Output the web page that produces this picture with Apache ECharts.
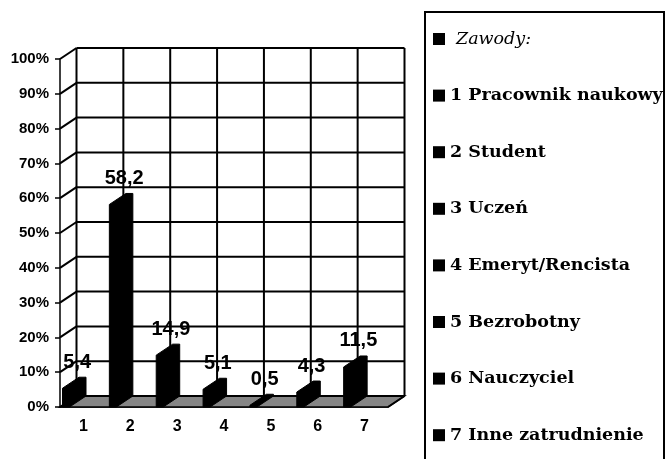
<!DOCTYPE html>
<html>
<head>
<meta charset="utf-8">
<script src="https://cdn.jsdelivr.net/npm/echarts@6/dist/echarts.min.js"></script>
<style>
  html, body { margin: 0; padding: 0; background: #fff; }
  #chart { width: 667px; height: 459px; }
</style>
</head>
<body>
<div id="chart"></div>
<script>
// --------------------------------------------------------------
// Data
// --------------------------------------------------------------

const categories = ["1", "2", "3", "4", "5", "6", "7"];
const shares = [5.4, 58.2, 14.9, 5.1, 0.5, 4.3, 11.5];
const yLevels = [0, 10, 20, 30, 40, 50, 60, 70, 80, 90, 100];
const legendNames = [
  "Zawody:",
  "1 Pracownik naukowy",
  "2 Student",
  "3 Uczeń",
  "4 Emeryt/Rencista",
  "5 Bezrobotny",
  "6 Nauczyciel",
  "7 Inne zatrudnienie",
];

// fake 3d depth (px)
const DX = 16.5;
const DY = -11;
const SANS = "'Liberation Sans', Arial, sans-serif";
const SERIF = "'DejaVu Serif', serif";

function fmt(v) {
  return v.toFixed(1).replace(".", ",");
}

// --------------------------------------------------------------
// Render helpers
// --------------------------------------------------------------

function renderFrame(params, api) {
  const band = api.size([1, 0])[0];
  const left = api.coord([0, 0])[0] - band / 2;
  const right = left + categories.length * band;
  const y0 = api.coord([0, 0])[1];
  const yTop = api.coord([0, yLevels[yLevels.length - 1]])[1];
  const line = { stroke: "#000", lineWidth: 2 };
  const children = [];

  // floor
  children.push({
    type: "polygon",
    shape: { points: [[left, y0], [right, y0], [right + DX, y0 + DY], [left + DX, y0 + DY]] },
    style: { fill: "#858585", stroke: "#000", lineWidth: 1.5 },
  });

  // back wall horizontal lines + side wall diagonals
  yLevels.forEach((v) => {
    const y = api.coord([0, v])[1];
    children.push({
      type: "line",
      shape: { x1: left + DX, y1: y + DY, x2: right + DX, y2: y + DY },
      style: line,
    });
    children.push({
      type: "line",
      shape: { x1: left, y1: y, x2: left + DX, y2: y + DY },
      style: line,
    });
  });

  // back wall vertical lines
  for (let i = 0; i <= categories.length; i++) {
    const x = left + i * band + DX;
    children.push({
      type: "line",
      shape: { x1: x, y1: yTop + DY, x2: x, y2: y0 + DY },
      style: line,
    });
  }

  // right floor edge
  children.push({
    type: "line",
    shape: { x1: right, y1: y0, x2: right + DX, y2: y0 + DY },
    style: line,
  });

  return { type: "group", children: children };
}

function renderBar(params, api) {
  const band = api.size([1, 0])[0];
  const top = api.coord([api.value(0), api.value(1)]);
  const base = api.coord([api.value(0), 0]);
  const x0 = top[0] - band / 2 + 2.5;
  const w = 7;
  const yb = base[1];
  const yt = top[1];
  return {
    type: "group",
    children: [
      {
        type: "polygon",
        shape: {
          points: [
            [x0, yb],
            [x0, yt],
            [x0 + DX, yt + DY],
            [x0 + w + DX, yt + DY],
            [x0 + w + DX, yb + DY],
            [x0 + w, yb],
          ],
        },
        style: { fill: "#000", stroke: "#000", lineWidth: 1 },
      },
      {
        type: "text",
        style: {
          text: fmt(api.value(1)),
          x: x0 + (w + DX) / 2 + 3,
          y: yt + DY - 5,
          align: "center",
          verticalAlign: "bottom",
          font: "bold 20px " + SANS,
          fill: "#000",
        },
      },
    ],
  };
}

// --------------------------------------------------------------
// Chart
// --------------------------------------------------------------

const chart = echarts.init(document.getElementById("chart"), null, { renderer: "canvas" });

const legendSeries = legendNames.map((n) => ({
  type: "line",
  name: n,
  data: [],
  itemStyle: { color: "#000" },
}));

chart.setOption({
  animation: false,
  backgroundColor: "#fff",
  grid: { left: 60, right: 279, top: 59, bottom: 52 },
  xAxis: {
    type: "category",
    data: categories,
    axisLine: { lineStyle: { color: "#000", width: 1.5 } },
    axisTick: { length: 5, lineStyle: { color: "#000", width: 1.5 } },
    axisLabel: { color: "#000", fontWeight: "bold", fontSize: 16, fontFamily: SANS, margin: 12 },
  },
  yAxis: {
    type: "value",
    min: 0,
    max: 100,
    interval: 10,
    axisLine: { show: true, lineStyle: { color: "#000", width: 1.5 } },
    axisTick: { show: true, length: 5, lineStyle: { color: "#000", width: 1.5 } },
    splitLine: { show: false },
    axisLabel: {
      formatter: "{value}%",
      color: "#000",
      fontWeight: "bold",
      fontSize: 15,
      fontFamily: SANS,
      margin: 11,
    },
  },
  legend: {
    orient: "vertical",
    left: 433,
    top: 30,
    padding: 0,
    icon: "rect",
    itemWidth: 12,
    itemHeight: 12,
    itemGap: 38.6,
    selectedMode: false,
    data: legendNames,
    formatter: (name) => (name === legendNames[0] ? "{i|" + name + "}" : "{b|" + name + "}"),
    textStyle: {
      rich: {
        i: { fontStyle: "italic", fontSize: 17.5, fontFamily: SERIF, color: "#000", padding: [0, 0, 0, 6] },
        b: { fontWeight: "bold", fontSize: 17.5, fontFamily: SERIF, color: "#000" },
      },
    },
  },
  graphic: [
    {
      type: "rect",
      shape: { x: 425, y: 12, width: 239, height: 470 },
      style: { fill: "none", stroke: "#000", lineWidth: 2 },
      z: -1,
    },
  ],
  series: [
    {
      type: "custom",
      name: "frame",
      data: [[0, 0]],
      renderItem: renderFrame,
      silent: true,
      z: 1,
    },
    {
      type: "custom",
      name: "bars",
      data: shares.map((v, i) => [i, v]),
      encode: { x: 0, y: 1 },
      renderItem: renderBar,
      z: 3,
    },
  ].concat(legendSeries),
});
</script>
</body>
</html>
